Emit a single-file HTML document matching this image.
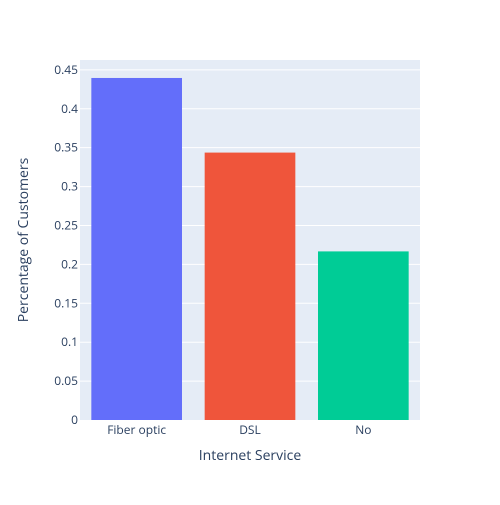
<!DOCTYPE html>
<html><head><meta charset="utf-8"><style>
body{margin:0;background:#fff}
svg text{font-family:"Open Sans","Liberation Sans",sans-serif;fill:#2a3f5f}
</style></head><body>
<svg id="chart" width="500" height="500" xmlns="http://www.w3.org/2000/svg">
<rect x="80" y="60" width="340" height="360" fill="#e5ecf6"/>
<g id="grid"></g><g id="bars"></g><g id="yticks"></g><g id="xticks"></g>
<text x="250" y="460" text-anchor="middle" font-size="14">Internet Service</text>
<text transform="translate(28,240) rotate(-90)" text-anchor="middle" font-size="14">Percentage of Customers</text>
</svg>
<script>
const categories=["Fiber optic","DSL","No"];
const values=[0.4396,0.3437,0.2167];
const colors=["#636efa","#EF553B","#00cc96"];
const yTicks=[0,0.05,0.1,0.15,0.2,0.25,0.3,0.35,0.4,0.45];
const yTickLabels=["0","0.05","0.1","0.15","0.2","0.25","0.3","0.35","0.4","0.45"];
const ns="http://www.w3.org/2000/svg";
const L=80,R=420,T=60,B=420,yMax=0.4627;
const y=v=>B-(v/yMax)*(B-T);
const band=(R-L)/categories.length;
const x=i=>L+band*i+band/2;
function mk(tag,attrs,parent){const e=document.createElementNS(ns,tag);for(const k in attrs)e.setAttribute(k,attrs[k]);document.getElementById(parent).appendChild(e);return e;}
yTicks.forEach((t,i)=>{
  if(t>0){const g=mk("line",{x1:L,x2:R,y1:y(t),y2:y(t),stroke:"#fff","stroke-width":1},"grid");
  
  }
  const tx=mk("text",{x:L-2,y:y(t)+4,"text-anchor":"end","font-size":12},"yticks");
  tx.textContent=yTickLabels[i];
  
  
});
categories.forEach((c,i)=>{
  const w=band*0.8;
  const r=mk("rect",{x:x(i)-w/2,y:y(values[i]),width:w,height:B-y(values[i]),fill:colors[i]},"bars");
  
  
  const tx=mk("text",{x:x(i),y:B+14,"text-anchor":"middle","font-size":12},"xticks");
  tx.textContent=c;
  
  
});
</script>
</body></html>
